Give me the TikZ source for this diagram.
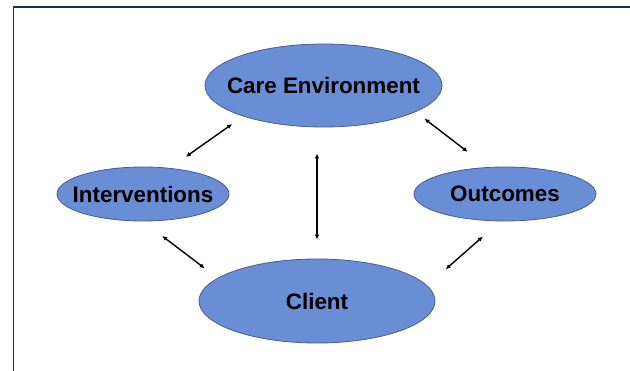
\documentclass[tikz,border=0pt]{standalone}
\usepackage{fontspec}
\setmainfont{Liberation Sans}
\usetikzlibrary{arrows.meta}
\usetikzlibrary{shapes.geometric}
\definecolor{bubblefill}{RGB}{106,142,213}
\definecolor{bubbleline}{RGB}{70,92,145}
\definecolor{framecol}{RGB}{25,50,70}

\begin{document}
\begin{tikzpicture}[x=1pt,y=-1pt,
		bubble/.style={ellipse,draw=bubbleline,fill=bubblefill,line width=0.8pt,
			inner xsep=-15pt,inner ysep=0pt,font=\fontsize{22.4}{24}\selectfont\bfseries},
		link/.style={{Latex[length=5pt,width=4.5pt]}-{Latex[length=5pt,width=4.5pt]},line width=1.4pt}]
		\useasboundingbox (0,0) rectangle (630,371);
		\draw[framecol,line width=1.5pt] (630,7) -- (13.5,7) -- (13.5,371);

		\node[bubble,minimum width=237pt,minimum height=83pt] (care) at (323.5,85.5) {Care Environment};
		\node[bubble,minimum width=172pt,minimum height=54pt] (interv) at (143,194) {Interventions};
		\node[bubble,minimum width=182pt,minimum height=54pt] (outcomes) at (505,194) {Outcomes};
		\node[bubble,minimum width=236pt,minimum height=84pt] (client) at (317,301) {Client};

		\draw[link,shorten <=13.5pt,shorten >=19.5pt] (care.201) -- (interv.44);
		\draw[link,shorten <=11pt,shorten >=25pt] (care.344.5) -- (outcomes.123);
		\draw[link,shorten <=26pt,shorten >=19pt] (care.south -| client) -- (client.north);
		\draw[link,shorten <=24pt,shorten >=16pt] (interv.270) -- (client.167.5);
		\draw[link,shorten <=23pt,shorten >=24.5pt] (outcomes.260) -- (client.8);
		\end{tikzpicture}
\end{document}
